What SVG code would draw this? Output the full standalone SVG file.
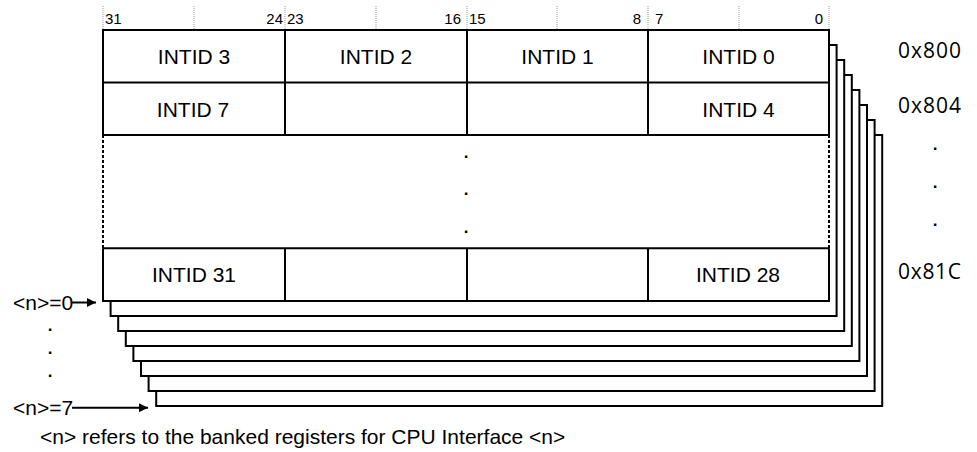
<svg xmlns="http://www.w3.org/2000/svg" width="977" height="452" viewBox="0 0 977 452">
<defs>
<style>
.lbl{font-family:"Liberation Sans",Arial,sans-serif;font-size:21px;fill:#000}
.dot{font-family:"Liberation Sans",Arial,sans-serif;font-size:17px;font-weight:bold;fill:#000}
.bit{font-family:"Liberation Sans",Arial,sans-serif;font-size:15px;fill:#000}
.addr{font-family:"Open Sans",sans-serif;font-size:21px;fill:#000}
.layer{fill:#fff;stroke:#000;stroke-width:2}
.ln{stroke:#000;stroke-width:2;fill:none}
.dash{stroke:#000;stroke-width:2;fill:none;stroke-dasharray:3 2}
.tick{stroke:#999;stroke-width:1;stroke-dasharray:1 1;fill:none}
</style>
<marker id="ah" viewBox="0 0 10 10" refX="10" refY="5" markerWidth="11" markerHeight="9" markerUnits="userSpaceOnUse" orient="auto">
<path d="M0,0 L10,5 L0,10 z" fill="#000"/>
</marker>
</defs>
<rect width="977" height="452" fill="#fff"/>

<g id="bank-layers">
<rect class="layer" x="156.2" y="135" width="726" height="271"/>
<rect class="layer" x="148.6" y="120" width="726" height="271"/>
<rect class="layer" x="141" y="105" width="726" height="271"/>
<rect class="layer" x="133.4" y="90" width="726" height="271"/>
<rect class="layer" x="125.8" y="75" width="726" height="271"/>
<rect class="layer" x="118.2" y="60" width="726" height="271"/>
<rect class="layer" x="110.6" y="45" width="726" height="271"/>
</g>

<g id="bit-ruler">
<path class="tick" d="M103,6V30M194,6V30M285,6V30M376,6V30M467,6V30M557,6V30M648,6V30M739,6V30M829,6V30"/>
<text class="bit" x="105" y="24">31</text>
<text class="bit" x="283" y="24" text-anchor="end">24</text>
<text class="bit" x="287" y="24">23</text>
<text class="bit" x="461" y="24" text-anchor="end">16</text>
<text class="bit" x="469" y="24">15</text>
<text class="bit" x="641" y="24" text-anchor="end">8</text>
<text class="bit" x="655" y="24">7</text>
<text class="bit" x="823" y="24" text-anchor="end">0</text>
</g>

<g id="register-0">
<rect x="103" y="30" width="726" height="271" fill="#fff"/>
<path class="ln" d="M103,30H829M103,82.5H829M103,135H829M103,248.3H829M103,301H829"/>
<path class="ln" d="M103,29V135M829,29V135M103,248.3V302M829,248.3V302"/>
<path class="dash" d="M103,135V248.3M829,135V248.3"/>
<path class="ln" d="M285,30V135M467,30V135M648,30V135M285,248.3V301M467,248.3V301M648,248.3V301"/>
<text class="lbl" x="194" y="64" text-anchor="middle">INTID 3</text>
<text class="lbl" x="376" y="64" text-anchor="middle">INTID 2</text>
<text class="lbl" x="557.5" y="64" text-anchor="middle">INTID 1</text>
<text class="lbl" x="738.5" y="64" text-anchor="middle">INTID 0</text>
<text class="lbl" x="193" y="116.5" text-anchor="middle">INTID 7</text>
<text class="lbl" x="738.5" y="116.5" text-anchor="middle">INTID 4</text>
<text class="lbl" x="194" y="282" text-anchor="middle">INTID 31</text>
<text class="lbl" x="738" y="282" text-anchor="middle">INTID 28</text>
<text class="dot" x="466" y="157.5" text-anchor="middle">.</text>
<text class="dot" x="466" y="194.5" text-anchor="middle">.</text>
<text class="dot" x="466" y="232.5" text-anchor="middle">.</text>
</g>

<g id="offsets">
<text class="addr" x="898" y="57.5" textLength="63" lengthAdjust="spacing">0x800</text>
<text class="addr" x="898" y="112.5" textLength="63" lengthAdjust="spacing">0x804</text>
<text class="dot" x="935" y="149.5" text-anchor="middle">.</text>
<text class="dot" x="935" y="188" text-anchor="middle">.</text>
<text class="dot" x="935" y="225.5" text-anchor="middle">.</text>
<text class="addr" x="898" y="279" textLength="63" lengthAdjust="spacing">0x81C</text>
</g>

<g id="bank-labels">
<text class="lbl" x="13" y="309.5">&lt;n&gt;=0</text>
<text class="dot" x="50" y="331" text-anchor="middle">.</text>
<text class="dot" x="50" y="353.5" text-anchor="middle">.</text>
<text class="dot" x="50" y="376.5" text-anchor="middle">.</text>
<text class="lbl" x="13" y="414.5">&lt;n&gt;=7</text>
</g>

<g id="connectors">
<line class="ln" x1="72" y1="302.5" x2="96" y2="302.5" stroke-width="1.3" marker-end="url(#ah)"/>
<line class="ln" x1="72" y1="407.7" x2="148" y2="407.7" stroke-width="1.3" marker-end="url(#ah)"/>
</g>

<text class="lbl" x="40" y="444">&lt;n&gt; refers to the banked registers for CPU Interface &lt;n&gt;</text>
</svg>
